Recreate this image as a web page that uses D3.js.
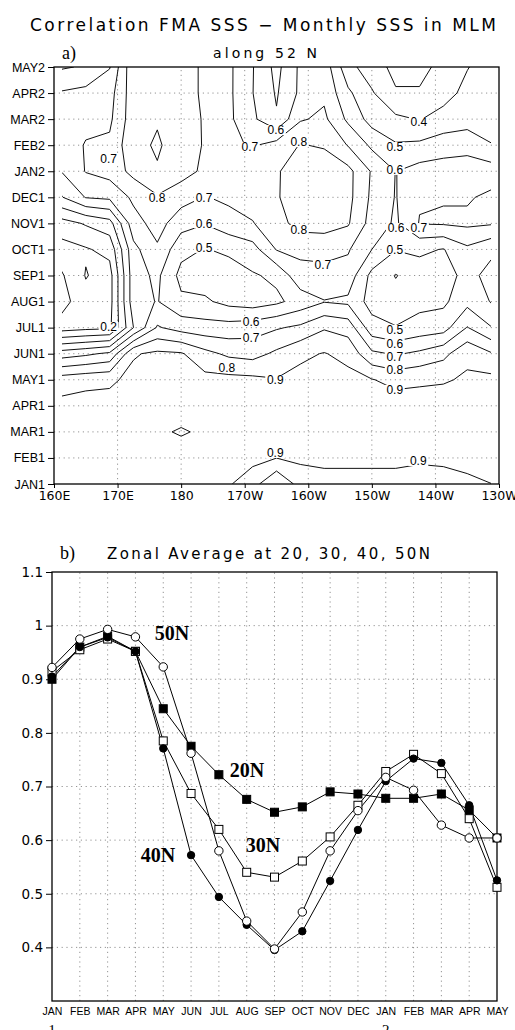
<!DOCTYPE html>
<html>
<head>
<meta charset="utf-8">
<script src="https://cdn.jsdelivr.net/npm/d3@7"></script>
<style>
  body { margin: 0; background: #fff; }
  svg { display: block; }
</style>
</head>
<body>
<svg id="chart" width="515" height="1030"></svg>
<script>
// ---------------- panel a) data ----------------
// longitude of grid columns (deg east, 3.75 deg spacing)
var gridLons = d3.range(19).map(function(i) { return 161.25 + i * 3.75; });
var monthRows = ["JAN1","FEB1","MAR1","APR1","MAY1","JUN1","JUL1","AUG1","SEP1",
                 "OCT1","NOV1","DEC1","JAN2","FEB2","MAR2","APR2","MAY2"];
var lonTicks = [160, 170, 180, 190, 200, 210, 220, 230];
var lonLabels = ["160E","170E","180","170W","160W","150W","140W","130W"];
var levels = [0.1, 0.2, 0.3, 0.4, 0.5, 0.6, 0.7, 0.8, 0.9];

// correlation field, written top (MAY2) to bottom (JAN1)
var corrRows = [
  [0.49,0.51,0.595,0.88,0.87,0.85,0.78,0.72,0.605,0.47,0.62,0.66,0.43,0.35,0.27,0.27,0.33,0.395,0.45], // MAY2
  [0.61,0.63,0.66,0.86,0.88,0.85,0.78,0.72,0.602,0.49,0.62,0.68,0.52,0.41,0.31,0.31,0.36,0.43,0.49],  // APR2
  [0.63,0.66,0.68,0.86,0.893,0.85,0.79,0.72,0.62,0.51,0.69,0.72,0.58,0.46,0.42,0.395,0.44,0.46,0.45], // MAR2
  [0.62,0.71,0.72,0.875,0.91,0.86,0.79,0.72,0.69,0.74,0.805,0.79,0.695,0.58,0.51,0.52,0.55,0.56,0.505], // FEB2
  [0.605,0.705,0.74,0.83,0.893,0.84,0.78,0.72,0.74,0.79,0.85,0.86,0.83,0.69,0.598,0.64,0.65,0.66,0.65], // JAN2
  [0.495,0.605,0.62,0.72,0.79,0.74,0.695,0.72,0.74,0.79,0.86,0.87,0.83,0.68,0.595,0.69,0.695,0.69,0.72], // DEC1
  [0.26,0.31,0.36,0.66,0.74,0.64,0.605,0.66,0.695,0.76,0.84,0.85,0.81,0.66,0.585,0.705,0.71,0.72,0.71], // NOV1
  [0.16,0.19,0.23,0.57,0.685,0.53,0.495,0.52,0.56,0.705,0.72,0.72,0.71,0.60,0.505,0.52,0.495,0.58,0.52], // OCT1
  [0.09,0.205,0.16,0.56,0.62,0.47,0.45,0.45,0.49,0.52,0.67,0.68,0.66,0.47,0.395,0.45,0.46,0.53,0.47],  // SEP1
  [0.06,0.17,0.16,0.56,0.605,0.52,0.515,0.47,0.45,0.48,0.54,0.595,0.58,0.46,0.44,0.47,0.48,0.57,0.495], // AUG1
  [0.15,0.17,0.18,0.50,0.71,0.66,0.64,0.64,0.656,0.69,0.72,0.79,0.76,0.54,0.505,0.54,0.558,0.705,0.605], // JUL1
  [0.55,0.58,0.62,0.89,0.92,0.91,0.83,0.78,0.763,0.82,0.88,0.905,0.87,0.72,0.69,0.72,0.77,0.879,0.81], // JUN1
  [0.85,0.87,0.88,0.93,0.95,0.95,0.93,0.93,0.924,0.905,0.93,0.94,0.93,0.905,0.867,0.885,0.89,0.913,0.927], // MAY1
  [0.93,0.94,0.94,0.95,0.95,0.925,0.95,0.95,0.95,0.95,0.95,0.95,0.95,0.95,0.954,0.94,0.95,0.95,0.95], // APR1
  [0.94,0.94,0.94,0.94,0.908,0.895,0.908,0.95,0.95,0.95,0.95,0.95,0.95,0.95,0.95,0.95,0.95,0.95,0.95], // MAR1
  [0.94,0.94,0.94,0.94,0.94,0.925,0.94,0.94,0.93,0.901,0.92,0.92,0.92,0.92,0.92,0.91,0.915,0.93,0.94], // FEB1
  [0.93,0.93,0.93,0.93,0.93,0.93,0.93,0.91,0.84,0.70,0.84,0.87,0.87,0.87,0.87,0.87,0.87,0.88,0.899]  // JAN1
];

// contour labels: [text, longitude, month index]
var contourLabels = [
  ["0.7",168.6,12.5],["0.8",176.2,11.0],["0.7",183.6,11.0],["0.6",183.6,10.0],["0.5",183.6,9.06],
  ["0.6",194.9,13.58],["0.7",190.8,12.93],["0.8",198.5,13.12],["0.4",217.4,13.89],["0.5",213.6,12.93],
  ["0.6",213.6,12.05],["0.8",198.5,9.75],["0.6",213.8,9.82],["0.7",217.4,9.82],["0.5",213.6,8.98],
  ["0.7",202.3,8.40],["0.2",168.6,6.02],["0.6",191.0,6.22],["0.7",191.0,5.6],["0.8",187.2,4.45],
  ["0.9",194.8,3.99],["0.5",213.6,5.92],["0.6",213.6,5.40],["0.7",213.6,4.90],["0.8",213.6,4.37],
  ["0.9",213.6,3.61],["0.9",194.8,1.19],["0.9",217.3,0.88]
];

// ---------------- panel b) data ----------------
var months = ["JAN","FEB","MAR","APR","MAY","JUN","JUL","AUG","SEP","OCT","NOV","DEC",
              "JAN","FEB","MAR","APR","MAY"];
var corr20N = [0.900,0.960,0.980,0.952,0.845,0.775,0.722,0.676,0.652,0.662,0.690,0.686,0.678,0.678,0.686,0.656,0.604];
var corr30N = [0.915,0.955,0.975,0.952,0.785,0.687,0.620,0.540,0.531,0.561,0.606,0.665,0.728,0.760,0.724,0.640,0.512];
var corr40N = [0.905,0.960,0.978,0.952,0.771,0.572,0.494,0.442,0.395,0.430,0.524,0.619,0.710,0.752,0.744,0.665,0.525];
var corr50N = [0.922,0.975,0.993,0.979,0.923,0.762,0.580,0.449,0.397,0.466,0.580,0.655,0.717,0.693,0.628,0.604,0.604];
var yTicksB = [0.4, 0.5, 0.6, 0.7, 0.8, 0.9, 1.0, 1.1];

var svg = d3.select("#chart");
var sans = "'DejaVu Sans', sans-serif";
var arial = "'Liberation Sans', Arial, sans-serif";
var serif = "'Liberation Serif', 'Times New Roman', serif";

// ================= panel a =================
var xA = d3.scaleLinear().domain([160, 230]).range([54, 499]);
var yA = d3.scaleLinear().domain([0, 16]).range([484, 67]);

svg.append("text").attr("x", 263).attr("y", 31)
  .attr("text-anchor", "middle").attr("font-family", sans).attr("font-size", 17)
  .attr("textLength", 466).attr("lengthAdjust", "spacing")
  .text("Correlation FMA SSS \u2212 Monthly SSS in MLM");
svg.append("text").attr("x", 62).attr("y", 59).attr("font-family", serif).attr("font-size", 18)
  .text("a)");
svg.append("text").attr("x", 265).attr("y", 58).attr("text-anchor", "middle")
  .attr("font-family", sans).attr("font-size", 14)
  .attr("textLength", 104).attr("lengthAdjust", "spacing").text("along 52 N");

// dotted grid
var gA = svg.append("g");
gA.selectAll(".hgrid").data(d3.range(1, 16)).enter().append("line")
  .attr("x1", xA(160)).attr("x2", xA(230))
  .attr("y1", function(d) { return yA(d); }).attr("y2", function(d) { return yA(d); })
  .attr("stroke", "#777").attr("stroke-width", 0.8).attr("stroke-dasharray", "1.2,3.6");
gA.selectAll(".vgrid").data(lonTicks.slice(1, -1)).enter().append("line")
  .attr("y1", yA(0)).attr("y2", yA(16))
  .attr("x1", function(d) { return xA(d); }).attr("x2", function(d) { return xA(d); })
  .attr("stroke", "#777").attr("stroke-width", 0.8).attr("stroke-dasharray", "1.2,3.6");

// contours
var nx = gridLons.length, ny = monthRows.length;
var field = corrRows.slice().reverse().reduce(function(a, r) { return a.concat(r); }, []);
var contours = d3.contours().size([nx, ny]).thresholds(levels)(field);
var proj = d3.geoTransform({
  point: function(x, y) {
    this.stream.point(xA(gridLons[0] + (x - 0.5) * 3.75), yA(y - 0.5));
  }
});
svg.append("clipPath").attr("id", "gridclip").append("rect")
  .attr("x", xA(gridLons[0])).attr("y", yA(16))
  .attr("width", xA(gridLons[nx - 1]) - xA(gridLons[0])).attr("height", yA(0) - yA(16));
svg.append("g").attr("clip-path", "url(#gridclip)")
  .selectAll("path").data(contours).enter().append("path")
  .attr("d", d3.geoPath(proj))
  .attr("fill", "none").attr("stroke", "#111").attr("stroke-width", 1)
  .attr("stroke-linejoin", "round");

// contour labels
var lab = svg.append("g").selectAll("g").data(contourLabels).enter().append("g")
  .attr("transform", function(d) { return "translate(" + xA(d[1]) + "," + yA(d[2]) + ")"; });
lab.append("rect").attr("x", -10).attr("y", -5).attr("width", 20).attr("height", 10).attr("fill", "#fff");
lab.append("text").attr("text-anchor", "middle").attr("dy", "0.36em")
  .attr("font-family", arial).attr("font-size", 12).text(function(d) { return d[0]; });

// frame and axes
svg.append("rect").attr("x", xA(160)).attr("y", yA(16))
  .attr("width", xA(230) - xA(160)).attr("height", yA(0) - yA(16))
  .attr("fill", "none").attr("stroke", "#000").attr("stroke-width", 1.3);
var axYA = svg.append("g").attr("transform", "translate(" + xA(160) + ",0)")
  .call(d3.axisLeft(yA).tickValues(d3.range(0, 17)).tickSize(6).tickPadding(3)
    .tickFormat(function(d) { return monthRows[d]; }));
axYA.select(".domain").remove();
axYA.selectAll("text").attr("font-family", arial).attr("font-size", 12.5).attr("fill", "#000");
var axXA = svg.append("g").attr("transform", "translate(0," + yA(0) + ")")
  .call(d3.axisBottom(xA).tickValues(lonTicks).tickSize(4).tickPadding(3)
    .tickFormat(function(d, i) { return lonLabels[i]; }));
axXA.select(".domain").remove();
axXA.selectAll("text").attr("font-family", sans).attr("font-size", 12.5).attr("fill", "#000");

// ================= panel b =================
var xB = d3.scaleLinear().domain([0, 16]).range([52, 497]);
var yB = d3.scaleLinear().domain([0.3, 1.1]).range([1001, 572]);

svg.append("text").attr("x", 60).attr("y", 559).attr("font-family", serif).attr("font-size", 18)
  .text("b)");
svg.append("text").attr("x", 107).attr("y", 559).attr("font-family", sans)
  .attr("font-size", 15)
  .attr("textLength", 323).attr("lengthAdjust", "spacing")
  .text("Zonal Average at 20, 30, 40, 50N");

var gB = svg.append("g");
gB.selectAll(".hg").data(yTicksB.slice(0, -1)).enter().append("line")
  .attr("x1", xB(0)).attr("x2", xB(16))
  .attr("y1", function(d) { return yB(d); }).attr("y2", function(d) { return yB(d); })
  .attr("stroke", "#777").attr("stroke-width", 0.8).attr("stroke-dasharray", "1.2,3.6");
gB.selectAll(".vg").data(d3.range(1, 16)).enter().append("line")
  .attr("y1", yB(0.3)).attr("y2", yB(1.1))
  .attr("x1", function(d) { return xB(d); }).attr("x2", function(d) { return xB(d); })
  .attr("stroke", "#777").attr("stroke-width", 0.8).attr("stroke-dasharray", "1.2,3.6");

svg.append("rect").attr("x", xB(0)).attr("y", yB(1.1))
  .attr("width", xB(16) - xB(0)).attr("height", yB(0.3) - yB(1.1))
  .attr("fill", "none").attr("stroke", "#000").attr("stroke-width", 1.3);

var axYB = svg.append("g").attr("transform", "translate(" + xB(0) + ",0)")
  .call(d3.axisLeft(yB).tickValues(yTicksB).tickSize(6).tickPadding(3)
    .tickFormat(function(d) { return d === 1 ? "1" : d3.format(".1f")(d); }));
axYB.select(".domain").remove();
axYB.selectAll("text").attr("font-family", sans).attr("font-size", 13.5).attr("fill", "#000");

var axXB = svg.append("g").attr("transform", "translate(0," + yB(0.3) + ")")
  .call(d3.axisBottom(xB).tickValues(d3.range(0, 17)).tickSize(0).tickPadding(7)
    .tickFormat(function(d) { return months[d]; }));
axXB.select(".domain").remove();
axXB.selectAll("text").attr("font-family", arial).attr("font-size", 10.5).attr("fill", "#000");

svg.append("text").attr("x", xB(0)).attr("y", 1035).attr("text-anchor", "middle")
  .attr("font-family", serif).attr("font-size", 15).text("1");
svg.append("text").attr("x", xB(12)).attr("y", 1035).attr("text-anchor", "middle")
  .attr("font-family", serif).attr("font-size", 15).text("2");

var line = d3.line().x(function(d, i) { return xB(i); }).y(function(d) { return yB(d); });
var series = [
  { v: corr20N, shape: "square", fill: "#000" },
  { v: corr30N, shape: "square", fill: "#fff" },
  { v: corr40N, shape: "circle", fill: "#000" },
  { v: corr50N, shape: "circle", fill: "#fff" }
];
series.forEach(function(s) {
  svg.append("path").datum(s.v).attr("d", line)
    .attr("fill", "none").attr("stroke", "#000").attr("stroke-width", 1);
});
series.forEach(function(s) {
  var g = svg.append("g");
  if (s.shape === "square") {
    g.selectAll("rect").data(s.v).enter().append("rect")
      .attr("x", function(d, i) { return xB(i) - 4; }).attr("y", function(d) { return yB(d) - 4; })
      .attr("width", 8).attr("height", 8)
      .attr("fill", s.fill).attr("stroke", "#000").attr("stroke-width", 1);
  } else {
    g.selectAll("circle").data(s.v).enter().append("circle")
      .attr("cx", function(d, i) { return xB(i); }).attr("cy", function(d) { return yB(d); })
      .attr("r", s.fill === "#000" ? 3.7 : 4.2)
      .attr("fill", s.fill).attr("stroke", "#000").attr("stroke-width", 1);
  }
});

// series labels [text, month index, value]
var seriesLabels = [["50N", 4.31, 0.986], ["20N", 7.01, 0.731], ["30N", 7.59, 0.591], ["40N", 3.81, 0.572]];
svg.append("g").selectAll("text").data(seriesLabels).enter().append("text")
  .attr("x", function(d) { return xB(d[1]); }).attr("y", function(d) { return yB(d[2]); })
  .attr("dy", "0.35em").attr("text-anchor", "middle")
  .attr("font-family", serif).attr("font-weight", "bold").attr("font-size", 20)
  .text(function(d) { return d[0]; });
</script>
</body>
</html>
